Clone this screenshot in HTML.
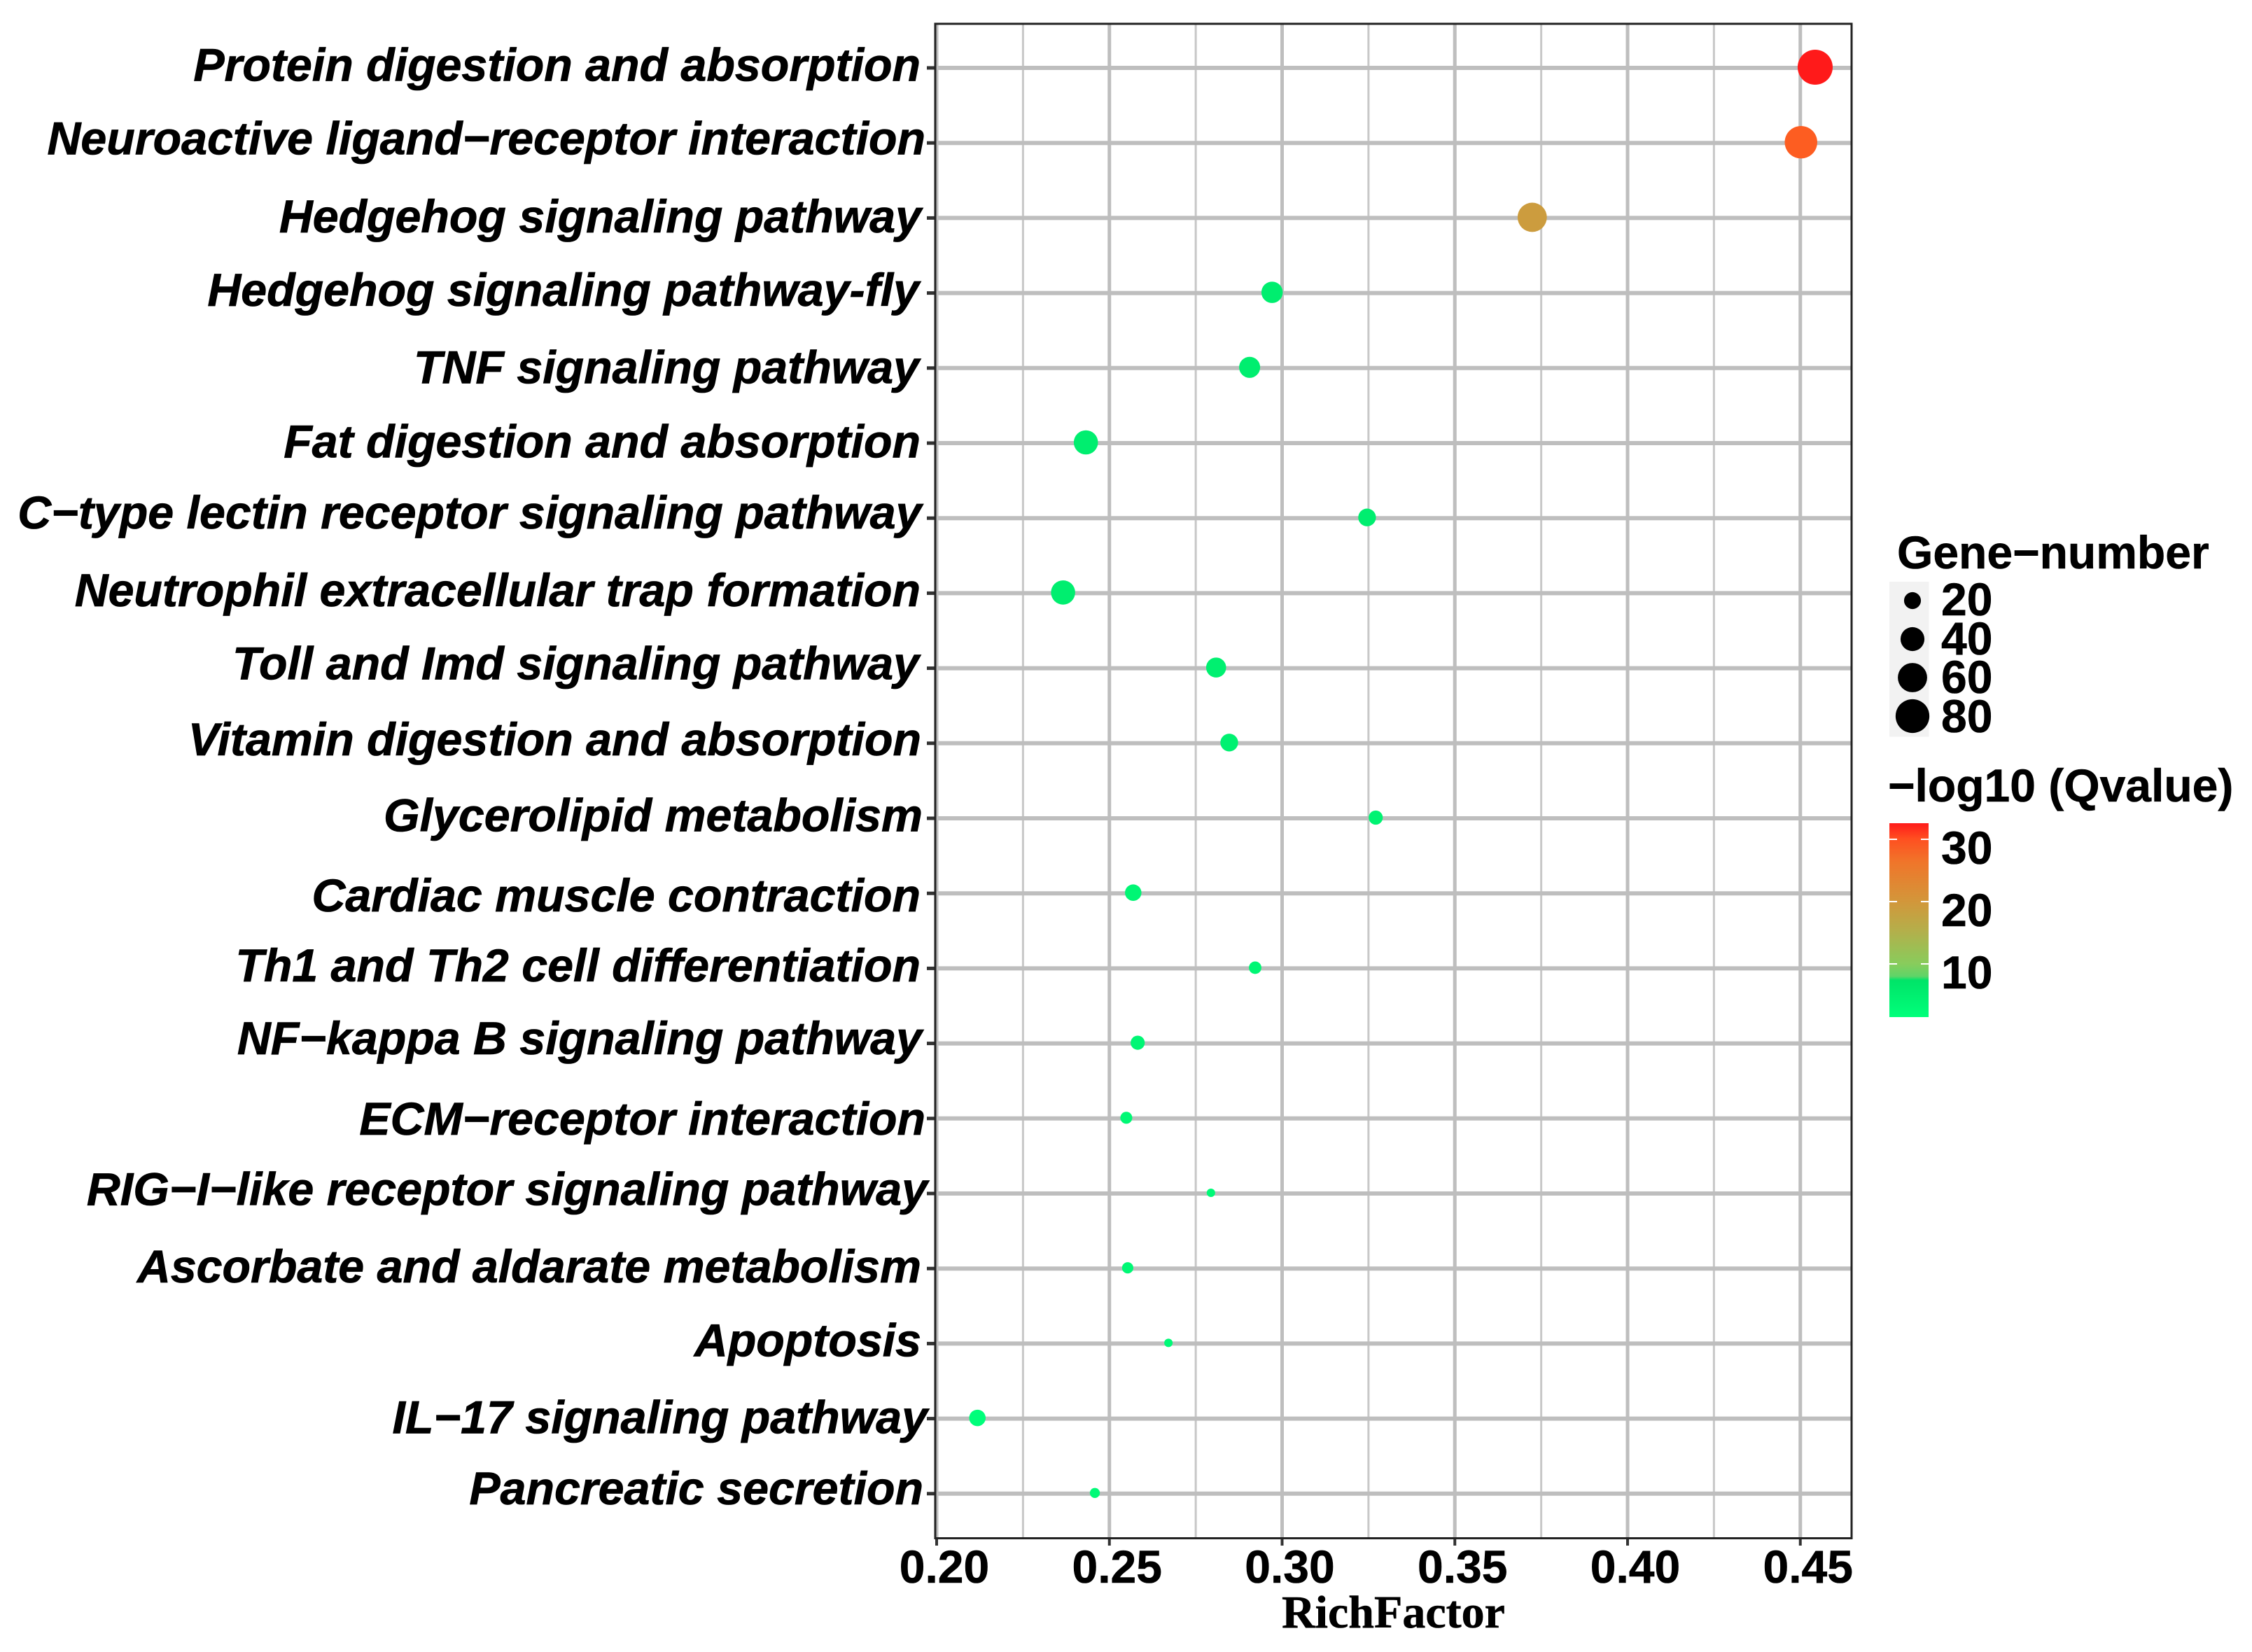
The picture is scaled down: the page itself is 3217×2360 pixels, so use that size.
<!DOCTYPE html>
<html lang="en">
<head>
<meta charset="utf-8">
<title>KEGG enrichment dot plot</title>
<style>
html,body{margin:0;padding:0;background:#fff;}
svg{display:block;}
.y{font:italic bold 66.3px "Liberation Sans",sans-serif;text-anchor:end;fill:#000;stroke:#000;stroke-width:0.8px;}
.b{font:bold 66px "Liberation Sans",sans-serif;fill:#000;stroke:#000;stroke-width:0.6px;}
</style>
</head>
<body>
<svg id="chart" xmlns="http://www.w3.org/2000/svg" width="3217" height="2360" viewBox="0 0 3217 2360">
  <defs>
    <linearGradient id="qGradient" x1="0" y1="0" x2="0" y2="1">
      <stop offset="0" stop-color="#ff1a1a"/>
      <stop offset="0.08" stop-color="#ff4f20"/>
      <stop offset="0.2" stop-color="#f0752a"/>
      <stop offset="0.4" stop-color="#d3963a"/>
      <stop offset="0.55" stop-color="#b5ae4a"/>
      <stop offset="0.726" stop-color="#88cc5c"/>
      <stop offset="0.79" stop-color="#5ed468"/>
      <stop offset="0.81" stop-color="#00e468"/>
      <stop offset="1" stop-color="#00ff7a"/>
    </linearGradient>
  </defs>
  <g id="grid"></g>
  <g id="ticks"></g>
  <rect x="1336" y="34" width="1309" height="2163.5" fill="none" stroke="#222" stroke-width="3"/>
  <g id="points"></g>

  <g>
    <text class="y" x="1315" y="115.5">Protein digestion and absorption</text>
    <text class="y" x="1322" y="220.5">Neuroactive ligand−receptor interaction</text>
    <text class="y" x="1316" y="332">Hedgehog signaling pathway</text>
    <text class="y" x="1313" y="437">Hedgehog signaling pathway-fly</text>
    <text class="y" x="1313" y="547.5">TNF signaling pathway</text>
    <text class="y" x="1315" y="653.5">Fat digestion and absorption</text>
    <text class="y" x="1316.5" y="755">C−type lectin receptor signaling pathway</text>
    <text class="y" x="1315" y="866">Neutrophil extracellular trap formation</text>
    <text class="y" x="1313" y="970.5">Toll and Imd signaling pathway</text>
    <text class="y" x="1316" y="1079">Vitamin digestion and absorption</text>
    <text class="y" x="1318" y="1187.5">Glycerolipid metabolism</text>
    <text class="y" x="1315" y="1302">Cardiac muscle contraction</text>
    <text class="y" x="1315" y="1402">Th1 and Th2 cell differentiation</text>
    <text class="y" x="1317" y="1506">NF−kappa B signaling pathway</text>
    <text class="y" x="1322" y="1621">ECM−receptor interaction</text>
    <text class="y" x="1325" y="1721.5">RIG−I−like receptor signaling pathway</text>
    <text class="y" x="1316" y="1832">Ascorbate and aldarate metabolism</text>
    <text class="y" x="1316" y="1937.5">Apoptosis</text>
    <text class="y" x="1325" y="2047.5">IL−17 signaling pathway</text>
    <text class="y" x="1319" y="2149">Pancreatic secretion</text>
  </g>

  <g id="xLabels"></g>
  <text x="1831" y="2325" font-family="'Liberation Serif',serif" font-weight="bold" font-size="66" fill="#000" stroke="#000" stroke-width="0.6">RichFactor</text>

  <g>
    <text class="b" x="2710" y="812">Gene−number</text>
    <rect x="2699" y="831" width="56.5" height="221.5" fill="#f2f2f2"/>
    <g id="sizeKeys"></g>
    <text class="b" x="2773" y="879">20</text>
    <text class="b" x="2773" y="935">40</text>
    <text class="b" x="2773" y="990">60</text>
    <text class="b" x="2773" y="1046">80</text>
  </g>

  <g>
    <text class="b" x="2697" y="1145">−log10 (Qvalue)</text>
    <rect x="2699" y="1176" width="56" height="277" fill="url(#qGradient)"/>
    <g id="colorTicks"></g>
    <text class="b" x="2773" y="1234">30</text>
    <text class="b" x="2773" y="1323">20</text>
    <text class="b" x="2773" y="1412">10</text>
  </g>
</svg>

<script>
const categories = [
  "Protein digestion and absorption", "Neuroactive ligand-receptor interaction",
  "Hedgehog signaling pathway", "Hedgehog signaling pathway-fly", "TNF signaling pathway",
  "Fat digestion and absorption", "C-type lectin receptor signaling pathway",
  "Neutrophil extracellular trap formation", "Toll and Imd signaling pathway",
  "Vitamin digestion and absorption", "Glycerolipid metabolism", "Cardiac muscle contraction",
  "Th1 and Th2 cell differentiation", "NF-kappa B signaling pathway", "ECM-receptor interaction",
  "RIG-I-like receptor signaling pathway", "Ascorbate and aldarate metabolism", "Apoptosis",
  "IL-17 signaling pathway", "Pancreatic secretion"
];
const richFactor = [0.4543, 0.4502, 0.3724, 0.2971, 0.2906, 0.2432, 0.3246, 0.2366, 0.2809, 0.2847,
                    0.3271, 0.2569, 0.2922, 0.2582, 0.2549, 0.2794, 0.2553, 0.2671, 0.2118, 0.2458];
const geneNumber = [86, 74, 60, 32, 31, 41, 22, 41, 28, 22, 14, 19, 11, 14, 10, 5, 9, 5, 19, 7];
const qValue = [32.6, 29, 18.5, 5.2, 5.2, 5.2, 5.2, 5.2, 4.8, 4.5, 4, 3.5, 3.5, 3.5, 3, 2.5, 3, 2.5, 1.6, 2.5];
const xMajorTicks = [0.20, 0.25, 0.30, 0.35, 0.40, 0.45];
const xMinorTicks = [0.225, 0.275, 0.325, 0.375, 0.425];
const xTickLabels = ["0.20", "0.25", "0.30", "0.35", "0.40", "0.45"];
const sizeLegendValues = [20, 40, 60, 80];
const colorLegendValues = [10, 20, 30];
const colorScaleValues = [1.46, 7.4, 8.2, 10, 14, 20, 26, 29.4, 30, 32.6];
const colorScaleColors = [[0,255,122],[0,228,104],[94,212,104],[136,204,92],[181,174,74],[211,150,58],[240,117,42],[255,90,32],[255,79,32],[255,26,26]];

const NS = "http://www.w3.org/2000/svg";
function x(v) { return 1338 + (v - 0.2) * 4935; }
function y(i) { return 97 + i * 107.2; }
function radius(n) { return 2.7 * Math.sqrt(n); }
function colorY(q) { return 1377 - (q - 10) * 8.9; }
function color(q) {
  const vals = colorScaleValues, cols = colorScaleColors;
  if (q <= vals[0]) return "rgb(" + cols[0].join(",") + ")";
  for (let k = 1; k < vals.length; k++) {
    if (q <= vals[k]) {
      const t = (q - vals[k - 1]) / (vals[k] - vals[k - 1]);
      const c = cols[k].map((b, j) => Math.round(cols[k - 1][j] + (b - cols[k - 1][j]) * t));
      return "rgb(" + c.join(",") + ")";
    }
  }
  return "rgb(" + cols[cols.length - 1].join(",") + ")";
}
function line(parent, x1, y1, x2, y2, stroke, width) {
  const el = document.createElementNS(NS, "line");
  el.setAttribute("x1", x1);
  el.setAttribute("y1", y1);
  el.setAttribute("x2", x2);
  el.setAttribute("y2", y2);
  el.setAttribute("stroke", stroke);
  el.setAttribute("stroke-width", width);
  parent.appendChild(el);
  return el;
}

const grid = document.getElementById("grid");
const ticks = document.getElementById("ticks");
const points = document.getElementById("points");
const xLabels = document.getElementById("xLabels");
const sizeKeys = document.getElementById("sizeKeys");
const colorTicks = document.getElementById("colorTicks");

xMinorTicks.forEach(function (v) {
  const el = line(grid, x(v), 34, x(v), 2197, "#c8c8c8", 3);
  
  
});
xMajorTicks.forEach(function (v, i) {
  const g = line(grid, x(v), 34, x(v), 2197, "#bebebe", 5);
  
  
  const t = line(ticks, x(v), 2198, x(v), 2208, "#333", 4);
  
  
  const label = document.createElementNS(NS, "text");
  label.setAttribute("class", "b");
  label.setAttribute("x", x(v) + 11);
  label.setAttribute("y", 2261);
  label.setAttribute("text-anchor", "middle");
  
  
  label.textContent = xTickLabels[i];
  xLabels.appendChild(label);
});
categories.forEach(function (name, i) {
  const g = line(grid, 1336, y(i), 2645, y(i), "#bebebe", 6);
  
  
  const t = line(ticks, 1324, y(i), 1335, y(i), "#333", 5);
  
  
  const c = document.createElementNS(NS, "circle");
  c.setAttribute("cx", x(richFactor[i]));
  c.setAttribute("cy", y(i) - 1);
  c.setAttribute("r", radius(geneNumber[i]));
  c.setAttribute("fill", color(qValue[i]));
  
  
  points.appendChild(c);
});
sizeLegendValues.forEach(function (n, i) {
  const c = document.createElementNS(NS, "circle");
  c.setAttribute("cx", 2732);
  c.setAttribute("cy", 858 + i * 55);
  c.setAttribute("r", radius(n));
  c.setAttribute("fill", "#000");
  
  
  sizeKeys.appendChild(c);
});
colorLegendValues.forEach(function (q) {
  const a = line(colorTicks, 2699, colorY(q), 2710, colorY(q), "#fff", 2);
  
  
  const b = line(colorTicks, 2744, colorY(q), 2755, colorY(q), "#fff", 2);
  
  
});
</script>
</body>
</html>
